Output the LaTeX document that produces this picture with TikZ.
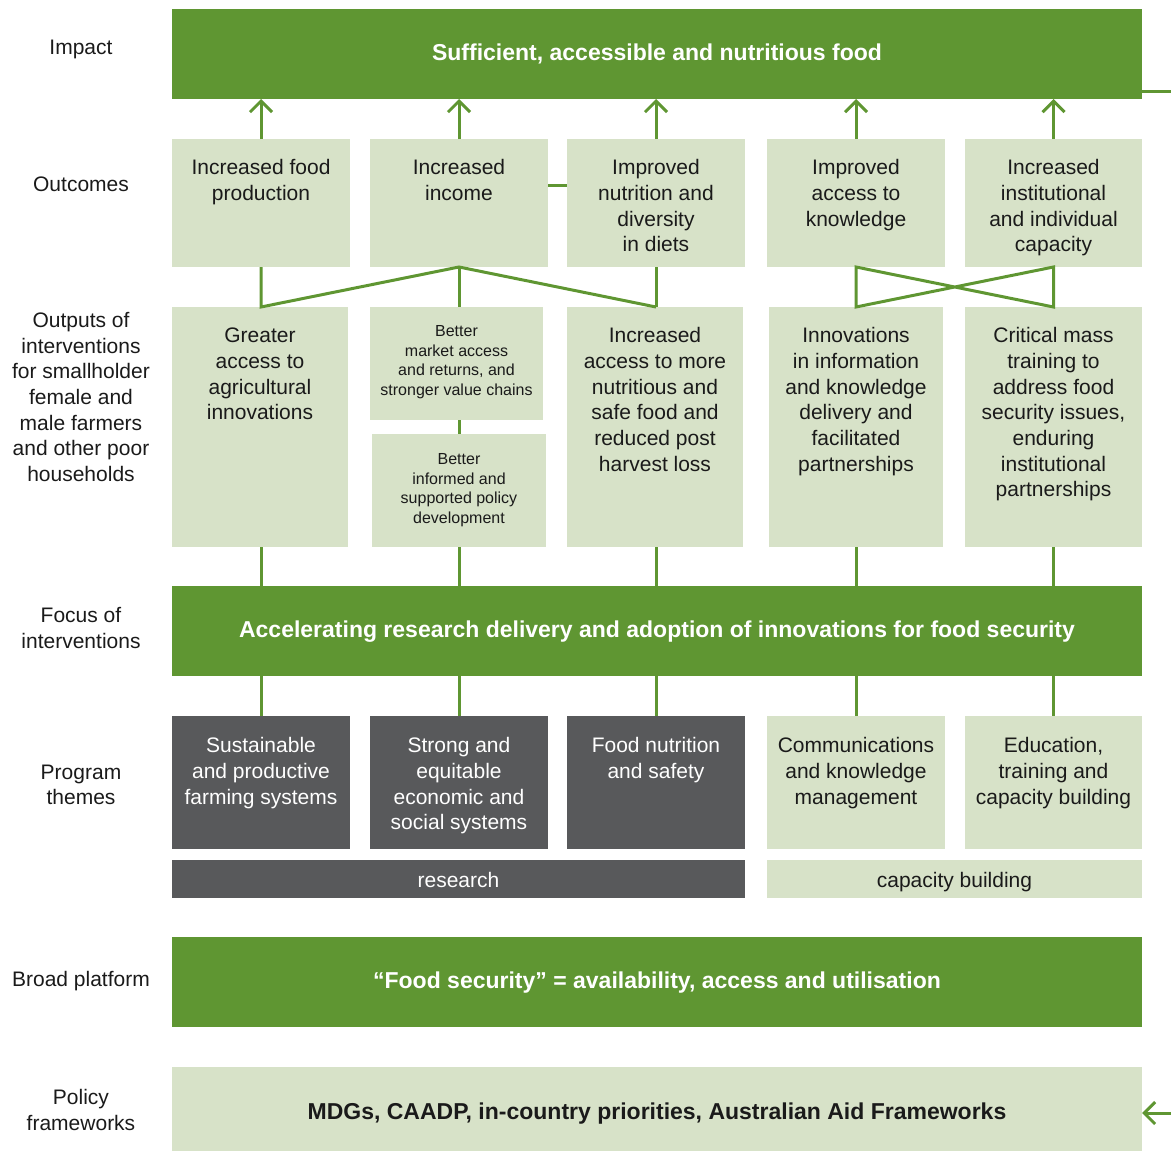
\documentclass[tikz,border=0pt]{standalone}
\usepackage{fontspec}
\setmainfont{Liberation Sans}
\usetikzlibrary{arrows.meta}
\definecolor{dgreen}{RGB}{95,150,50}
\definecolor{lgreen}{RGB}{215,226,200}
\definecolor{dgrey}{RGB}{88,89,91}
\definecolor{ink}{RGB}{26,26,26}
\begin{document}
\begin{tikzpicture}[x=1pt,y=-1pt,
  fillbox/.style={inner sep=0pt, outer sep=0pt, anchor=north west},
  gbox/.style={fillbox, fill=dgreen},
  lbox/.style={fillbox, fill=lgreen},
  kbox/.style={fillbox, fill=dgrey},
  conn/.style={draw=dgreen, line width=3pt},
  arr/.style={conn, -{Straight Barb[length=11pt,width=22pt]}},
  body/.style={font=\fontsize{21}{25.7}\selectfont, text=ink, align=center, inner sep=0pt, anchor=north},
  wbody/.style={body, text=white},
  small/.style={font=\fontsize{16}{19.5}\selectfont, text=ink, align=center, inner sep=0pt, anchor=north},
  side/.style={font=\fontsize{21}{25.7}\selectfont, text=ink, align=center, inner sep=0pt},
  banner/.style={font=\bfseries\fontsize{23}{28}\selectfont, text=white, inner sep=0pt},
  bannerk/.style={banner, text=ink}
]
\useasboundingbox (0,0) rectangle (1171,1151);

% ---------- boxes ----------
\node[gbox, minimum width=970pt, minimum height=90pt] (imp) at (172,9) {};
\node[lbox, minimum width=178pt, minimum height=128pt] (oc1) at (172,139) {};
\node[lbox, minimum width=178pt, minimum height=128pt] (oc2) at (370,139) {};
\node[lbox, minimum width=178pt, minimum height=128pt] (oc3) at (567,139) {};
\node[lbox, minimum width=178pt, minimum height=128pt] (oc4) at (767,139) {};
\node[lbox, minimum width=177pt, minimum height=128pt] (oc5) at (965,139) {};

\node[lbox, minimum width=176pt, minimum height=240pt] (op1) at (172,307) {};
\node[lbox, minimum width=173pt, minimum height=113pt] (op2a) at (370,307) {};
\node[lbox, minimum width=174pt, minimum height=113pt] (op2b) at (372,434) {};
\node[lbox, minimum width=176pt, minimum height=240pt] (op3) at (567,307) {};
\node[lbox, minimum width=174pt, minimum height=240pt] (op4) at (769,307) {};
\node[lbox, minimum width=177pt, minimum height=240pt] (op5) at (965,307) {};

\node[gbox, minimum width=970pt, minimum height=90pt] (foc) at (172,586) {};

\node[kbox, minimum width=178pt, minimum height=133pt] (th1) at (172,716) {};
\node[kbox, minimum width=178pt, minimum height=133pt] (th2) at (370,716) {};
\node[kbox, minimum width=178pt, minimum height=133pt] (th3) at (567,716) {};
\node[lbox, minimum width=178pt, minimum height=133pt] (th4) at (767,716) {};
\node[lbox, minimum width=177pt, minimum height=133pt] (th5) at (965,716) {};

\node[kbox, minimum width=573pt, minimum height=38pt] (res) at (172,860) {};
\node[lbox, minimum width=375pt, minimum height=38pt] (cap) at (767,860) {};

\node[gbox, minimum width=970pt, minimum height=90pt] (plat) at (172,937) {};
\node[lbox, minimum width=970pt, minimum height=84pt] (pol) at (172,1067) {};

% ---------- box texts ----------
\node[banner] (impt) at ([yshift=0pt]imp.center) {Sufficient, accessible and nutritious food};

\node[body] (oc1t) at ([yshift=-17.5pt]oc1.north) {\strut Increased food\\production};
\node[body] (oc2t) at ([yshift=-17.5pt]oc2.north) {\strut Increased\\income};
\node[body] (oc3t) at ([yshift=-17.5pt]oc3.north) {\strut Improved\\nutrition and\\diversity\\in diets};
\node[body] (oc4t) at ([yshift=-17.5pt]oc4.north) {\strut Improved\\access to\\knowledge};
\node[body] (oc5t) at ([yshift=-17.5pt]oc5.north) {\strut Increased\\institutional\\and individual\\capacity};

\node[body] (op1t) at ([yshift=-17.5pt]op1.north) {\strut Greater\\access to\\agricultural\\innovations};
\node[small] (op2at) at ([yshift=-16pt]op2a.north) {\strut Better\\market access\\and returns, and\\stronger value chains};
\node[small] (op2bt) at ([yshift=-17pt]op2b.north) {\strut Better\\informed and\\supported policy\\development};
\node[body] (op3t) at ([yshift=-17.5pt]op3.north) {\strut Increased\\access to more\\nutritious and\\safe food and\\reduced post\\harvest loss};
\node[body] (op4t) at ([yshift=-17.5pt]op4.north) {\strut Innovations\\in information\\and knowledge\\delivery and\\facilitated\\partnerships};
\node[body] (op5t) at ([yshift=-17.5pt]op5.north) {\strut Critical mass\\training to\\address food\\security issues,\\enduring\\institutional\\partnerships};

\node[banner] (foct) at ([yshift=-1pt]foc.center) {Accelerating research delivery and adoption of innovations for food security};

\node[wbody] (th1t) at ([yshift=-18.5pt]th1.north) {\strut Sustainable\\and productive\\farming systems};
\node[wbody] (th2t) at ([yshift=-18.5pt]th2.north) {\strut Strong and\\equitable\\economic and\\social systems};
\node[wbody] (th3t) at ([yshift=-18.5pt]th3.north) {\strut Food nutrition\\and safety};
\node[body] (th4t) at ([yshift=-18.5pt]th4.north) {\strut Communications\\and knowledge\\management};
\node[body] (th5t) at ([yshift=-18.5pt]th5.north) {\strut Education,\\training and\\capacity building};

\node[side, text=white] (rest) at ([yshift=-1pt]res.center) {research};
\node[side] (capt) at ([yshift=-3pt]cap.center) {capacity building};

\node[banner] (platt) at ([yshift=-1pt]plat.center) {“Food security” = availability, access and utilisation};
\node[bannerk] (polt) at ([yshift=-5pt]pol.center) {MDGs, CAADP, in-country priorities, Australian Aid Frameworks};

% ---------- side labels ----------
\node[side] (l1) at (81,49) {Impact};
\node[side] (l2) at (81,184) {Outcomes};
\node[side] (l3) at (81,397) {Outputs of\\interventions\\for smallholder\\female and\\male farmers\\and other poor\\households};
\node[side] (l4) at (81,628) {Focus of\\interventions};
\node[side] (l5) at (81,785) {Program\\themes};
\node[side] (l6) at (81,981) {Broad platform};
\node[side] (l7) at (81,1110) {Policy\\frameworks};

% ---------- connectors ----------
\foreach \o in {oc1,oc2,oc3,oc4,oc5}
  \draw[arr] (\o.north) -- (\o.north |- imp.south);

\draw[conn] ([yshift=18pt]oc2.east) -- ([yshift=18pt]oc3.west);

\draw[conn] (oc1.south) -- (oc1.south |- op1.north) -- (oc2.south) -- (oc3.south |- op3.north);
\draw[conn] (oc2.south) -- (oc2.south |- op2a.north);
\draw[conn] (oc3.south) -- (oc3.south |- op3.north);
\draw[conn] (oc4.south) -- (oc4.south |- op4.north) -- (oc5.south) -- (oc5.south |- op5.north) -- cycle;

\draw[conn] (op2a.south -| oc2.south) -- (op2b.north -| oc2.south);
\draw[conn] (op1.south -| oc1.south) -- (foc.north -| oc1.south);
\draw[conn] (op2b.south -| oc2.south) -- (foc.north -| oc2.south);
\draw[conn] (op3.south -| oc3.south) -- (foc.north -| oc3.south);
\draw[conn] (op4.south -| oc4.south) -- (foc.north -| oc4.south);
\draw[conn] (op5.south -| oc5.south) -- (foc.north -| oc5.south);

\draw[conn] (foc.south -| oc1.south) -- (th1.north -| oc1.south);
\draw[conn] (foc.south -| oc2.south) -- (th2.north -| oc2.south);
\draw[conn] (foc.south -| oc3.south) -- (th3.north -| oc3.south);
\draw[conn] (foc.south -| oc4.south) -- (th4.north -| oc4.south);
\draw[conn] (foc.south -| oc5.south) -- (th5.north -| oc5.south);

\coordinate (impR) at (1171,91.5);
\draw[conn] (imp.east |- impR) -- (impR);
\coordinate (polR) at (1171,1113);
\draw[arr] (polR) -- (polR -| pol.east);
\end{tikzpicture}
\end{document}
